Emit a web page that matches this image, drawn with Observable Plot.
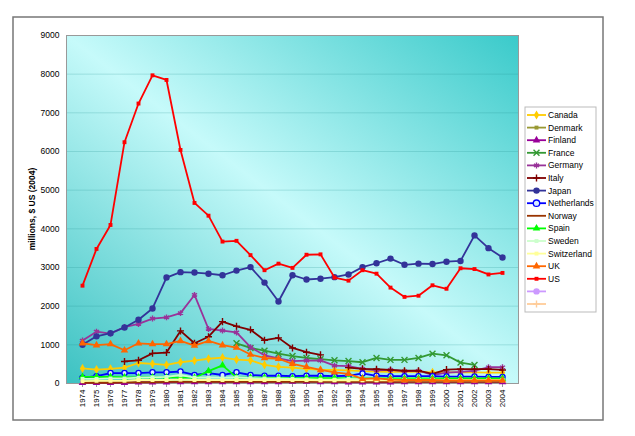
<!DOCTYPE html>
<html>
<head>
<meta charset="utf-8">
<script src="https://cdn.jsdelivr.net/npm/d3@7"></script>
<script src="https://cdn.jsdelivr.net/npm/@observablehq/plot@0.6"></script>
<style>
  html, body { margin: 0; padding: 0; background: #fff; }
  #chart svg { display: block; }
</style>
</head>
<body>
<div id="chart"></div>
<script>
const years = d3.range(1974, 2005);
const yTicks = [0, 1000, 2000, 3000, 4000, 5000, 6000, 7000, 8000, 9000];
const countries = ["Canada","Denmark","Finland","France","Germany","Italy","Japan","Netherlands","Norway","Spain","Sweden","Switzerland","UK","US","",""];
const colors = ["#ffcc00","#999933","#990099","#339933","#993399","#800000","#333399","#0000ff","#993300","#00ff00","#ccffcc","#ffff99","#ff6600","#ff0000","#cc99ff","#ffcc99"];
const symbols = ["diamond","square","triangle","times","asterisk","plus","circle","circle","none","triangle","square","square","triangle","square","circle","plus"];

const canada = [390,360,380,410,530,510,480,550,590,640,670,620,600,480,430,410,380,350,350,340,320,310,300,300,300,290,290,290,290,280,280];
const denmark = [40,40,40,40,50,50,50,50,50,50,50,50,50,50,50,50,60,60,60,60,60,60,60,60,60,60,60,60,60,60,60];
const finland = [20,20,20,20,30,30,30,40,40,40,40,40,40,40,40,50,50,40,40,30,30,30,30,40,40,40,40,40,40,40,40];
const france = [null,null,null,null,null,null,null,null,null,null,null,1040,920,850,770,710,660,630,600,580,550,660,610,610,660,770,730,540,480,null,null];
const germany = [1110,1340,1290,1460,1540,1680,1710,1820,2290,1410,1370,1320,940,730,650,580,590,600,460,450,380,340,350,320,330,220,280,300,330,420,420];
const italy = [null,null,null,570,600,780,800,1360,1040,1210,1600,1480,1390,1120,1180,920,810,740,null,410,380,370,350,330,330,250,360,370,370,370,350];
const japan = [1000,1220,1300,1450,1650,1940,2740,2880,2870,2840,2800,2920,3010,2610,2120,2800,2690,2710,2750,2820,3010,3110,3230,3070,3100,3090,3150,3170,3830,3500,3260];
const netherlands = [150,190,270,270,270,290,290,310,220,270,220,290,220,200,200,190,200,200,190,200,260,200,190,190,190,190,180,180,180,170,170];
const norway = [20,20,20,30,30,30,40,40,40,40,40,40,40,40,40,40,40,40,40,40,40,40,40,40,40,40,40,40,40,40,40];
const spain = [170,170,170,160,160,160,160,150,150,320,470,160,150,150,140,140,140,140,140,130,130,130,130,130,130,130,130,130,130,130,130];
const sweden = [120,120,130,130,150,160,170,220,150,160,150,160,140,130,130,120,110,100,100,120,110,100,100,100,100,100,90,90,90,90,90];
const switzerland = [60,70,70,70,90,90,90,100,90,90,90,90,90,90,90,90,90,80,80,80,80,80,80,80,80,80,80,80,80,80,80];
const uk = [1040,990,1020,860,1040,1020,1020,1100,980,1100,990,930,750,660,640,510,430,350,290,250,120,130,100,90,90,90,80,80,80,80,80];
const us = [2530,3480,4100,6240,7240,7970,7850,6040,4670,4340,3670,3690,3320,2930,3100,2990,3330,3340,2740,2660,2930,2840,2480,2240,2270,2540,2450,2980,2960,2820,2860];
const blank1 = [];
const blank2 = [];

const seriesValues = [canada,denmark,finland,france,germany,italy,japan,netherlands,norway,spain,sweden,switzerland,uk,us,blank1,blank2];

const strokeSymbols = new Set(["times","asterisk","plus"]);
function symR(s) { return s === "circle" ? 3.2 : s === "square" ? 2.2 : s === "plus" ? 2.4 : 2.8; }
const marks = [];
seriesValues.forEach((vals, i) => {
  const data = vals.map((v, j) => ({year: String(years[j]), v}));
  if (!data.length) return;
  marks.push(Plot.line(data, {x: "year", y: "v", stroke: colors[i], strokeWidth: 1.8}));
  const s = symbols[i];
  if (s !== "none") {
    const dd = data.filter(d => d.v != null);
    if (strokeSymbols.has(s)) {
      marks.push(Plot.dot(dd, {x: "year", y: "v", symbol: s, r: symR(s), stroke: colors[i], strokeWidth: 1.4}));
    } else if (i === 7) {
      marks.push(Plot.dot(dd, {x: "year", y: "v", symbol: "circle", r: 2.6, stroke: colors[i], fill: "#d8ecff", strokeWidth: 1.3}));
    } else {
      marks.push(Plot.dot(dd, {x: "year", y: "v", symbol: s, r: symR(s), fill: colors[i], stroke: "none"}));
    }
  }
});

const chart = Plot.plot({
  width: 635,
  height: 436,
  marginLeft: 66,
  marginRight: 117,
  marginTop: 35,
  marginBottom: 53,
  style: {fontFamily: "'Liberation Sans', Arial, sans-serif", fontSize: "8.5px", background: "#fff", color: "#000"},
  x: {type: "point", domain: years.map(String), padding: 0.5, label: null},
  y: {domain: [0, 9000], label: null},
  marks: [
    Plot.frame({fill: "url(#bg)", stroke: "none"}),
    Plot.gridY(yTicks, {stroke: "#1f8f8f", strokeOpacity: 0.22, strokeWidth: 1}),
    Plot.frame({stroke: "#999", strokeWidth: 1}),
    Plot.axisY(yTicks, {tickSize: 0, tickPadding: 7, tickFormat: d => String(d), fontSize: 8.5}),
    Plot.axisX({tickRotate: -90, tickSize: 4, tickPadding: 2, fontSize: 8, stroke: "#999"}),
    ...marks
  ]
});

const svg = d3.select(chart);
svg.insert("defs", ":first-child").html(`
  <linearGradient id="bg" x1="0" y1="1" x2="1" y2="0">
    <stop offset="0" stop-color="#3cc2c2"/>
    <stop offset="0.5" stop-color="#c6fafa"/>
    <stop offset="1" stop-color="#3acaca"/>
  </linearGradient>`);

// outer frame
svg.append("rect").attr("x", 13).attr("y", 17).attr("width", 590).attr("height", 403)
  .attr("fill", "none").attr("stroke", "#777").attr("stroke-width", 1.5);

// y label
svg.append("text")
  .attr("transform", "translate(35,209) rotate(-90)")
  .attr("text-anchor", "middle")
  .attr("font-weight", "bold")
  .attr("font-size", "8.5px")
  .text("millions, $ US (2004)");

// legend
const lg = svg.append("g").attr("text-anchor", "start");
lg.append("rect").attr("x", 525).attr("y", 107).attr("width", 71).attr("height", 205)
  .attr("fill", "#fff").attr("stroke", "#bbb").attr("stroke-width", 1);
const symMap = {diamond: d3.symbolDiamond, square: d3.symbolSquare, triangle: d3.symbolTriangle,
  times: d3.symbolTimes, asterisk: d3.symbolAsterisk, plus: d3.symbolPlus, circle: d3.symbolCircle};
countries.forEach((name, i) => {
  const cy = 115 + i * 12.6;
  lg.append("line").attr("x1", 527).attr("x2", 546).attr("y1", cy).attr("y2", cy)
    .attr("stroke", colors[i]).attr("stroke-width", 1.8);
  const s = symbols[i];
  if (s !== "none") {
    const r = symR(s);
    const p = lg.append("path").attr("transform", `translate(536.5,${cy})`)
      .attr("d", d3.symbol(symMap[s], Math.PI * r * r)());
    if (strokeSymbols.has(s)) p.attr("fill", "none").attr("stroke", colors[i]).attr("stroke-width", 1.4);
    else if (i === 7) p.attr("fill", "#d8ecff").attr("stroke", colors[i]).attr("stroke-width", 1.3);
    else p.attr("fill", colors[i]);
  }
  lg.append("text").attr("x", 548).attr("y", cy).attr("dy", "0.35em")
    .attr("text-anchor", "start")
    .attr("font-size", "8.5px").text(name);
});

document.getElementById("chart").appendChild(chart);
</script>
</body>
</html>
